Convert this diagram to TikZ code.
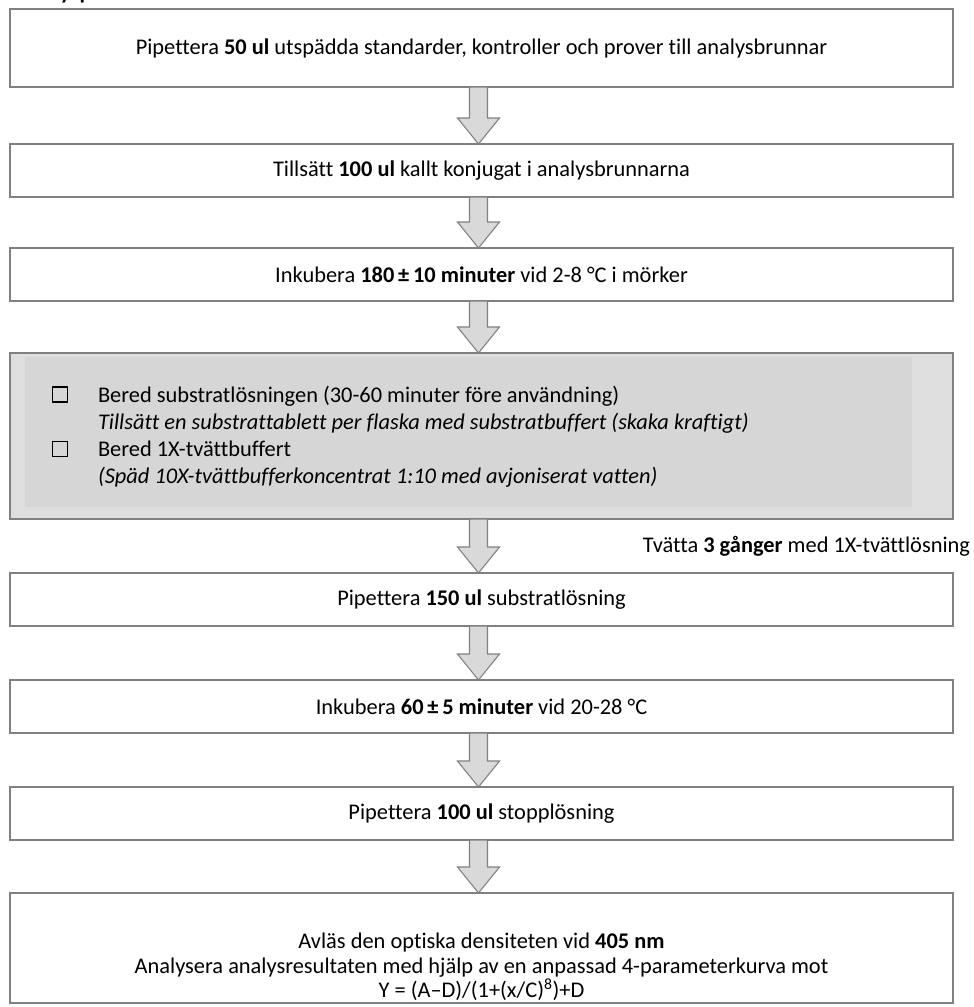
\documentclass[tikz,border=0pt]{standalone}
\usepackage{fontspec}
\setmainfont{Carlito}[Ligatures=NoCommon]
\usetikzlibrary{calc}
\definecolor{bordergray}{RGB}{128,128,128}
\definecolor{arrowfill}{RGB}{217,217,217}
\definecolor{outergray}{RGB}{222,222,222}
\definecolor{innergray}{RGB}{214,214,214}
\tikzset{
  x=0.75pt, y=-0.75pt,
  every node/.style={font=\fontsize{16.8}{18}\selectfont, inner sep=0pt, outer sep=0pt},
  box/.style={draw=bordergray, line width=1.1pt, fill=white, minimum width=707.25pt, anchor=north west, align=center},
  barrow/.style={draw=bordergray, line width=0.8pt, fill=arrowfill, line join=miter},
  chk/.style={draw=black, line width=1.1pt, minimum size=11.5pt, fill=none},
}
\newcommand\blockarrow[2]{%
  \draw[barrow] let \p1=($(#1.south)+(-3,0)$), \p2=($(#2.north)+(-3,0)$) in
    (\x1-6.75pt,\y1) -- (\x1+6.75pt,\y1) -- (\x1+6.75pt,\y2+19.5pt) -- (\x1+15.75pt,\y2+19.5pt)
    -- (\x1,\y2) -- (\x1-15.75pt,\y2+19.5pt) -- (\x1-6.75pt,\y2+19.5pt) -- cycle;}
\begin{document}
\begin{tikzpicture}
\useasboundingbox (0,0) rectangle (974,1007);
\fill[white] (0,0) rectangle (974,1007);
\node[anchor=base west, font=\fontsize{16.8}{18}\selectfont\bfseries] (hd) at (18,-1) {Analysprocedur};

\node[box, minimum height=58.5pt] (b1) at (10,9) {Pipettera \textbf{50 ul} utspädda standarder, kontroller och prover till analysbrunnar};
\node[box, minimum height=39.75pt] (b2) at (10,144) {Tillsätt \textbf{100 ul} kallt konjugat i analysbrunnarna};
\node[box, minimum height=39.75pt] (b3) at (10,248) {Inkubera \textbf{180\,±\,10 minuter} vid 2-8 °C i mörker};
\node[box, fill=outergray, minimum height=124.5pt] (b4) at (10,353) {};
\fill[innergray] (25,357) rectangle (912,507);
\node[chk] (c1) at (60,394.5) {};
\node[chk] (c2) at (60,449) {};
\node[anchor=base west] (r1) at (98,402) {Bered substratlösningen (30-60 minuter före användning)};
\node[anchor=base west] (r2) at (98,429) {\itshape Tillsätt en substrattablett per flaska med substratbuffert (skaka kraftigt)};
\node[anchor=base west] (r3) at (98,456) {Bered 1X-tvättbuffert};
\node[anchor=base west] (r4) at (98,483) {\itshape (Späd 10X-tvättbufferkoncentrat 1:10 med avjoniserat vatten)};
\node[anchor=base east] (tv) at (970,552) {Tvätta \textbf{3 gånger} med 1X-tvättlösning};
\node[box, minimum height=39.75pt] (b5) at (10,573) {Pipettera \textbf{150 ul} substratlösning};
\node[box, minimum height=39.75pt] (b6) at (10,680) {Inkubera \textbf{60\,±\,5 minuter} vid 20-28 °C};
\node[box, minimum height=39.75pt] (b7) at (10,787) {Pipettera \textbf{100 ul} stopplösning};
\node[box, minimum height=82.5pt] (b8) at (10,893) {};
\node[align=center, font=\fontsize{16.8}{18.5}\selectfont] (t8) at (481.5,967) {Avläs den optiska densiteten vid \textbf{405 nm}\\Analysera analysresultaten med hjälp av en anpassad 4-parameterkurva mot\\Y = (A–D)/(1+(x/C)\textsuperscript{8})+D};

\blockarrow{b1}{b2}
\blockarrow{b2}{b3}
\blockarrow{b3}{b4}
\blockarrow{b4}{b5}
\blockarrow{b5}{b6}
\blockarrow{b6}{b7}
\blockarrow{b7}{b8}
\end{tikzpicture}
\end{document}
